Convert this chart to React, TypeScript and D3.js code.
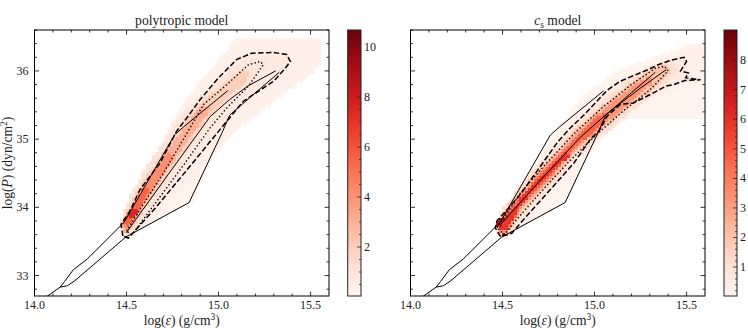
import React from 'react';
import * as d3 from 'd3';

type Pt = [number, number];

// ---------- axes / ticks ----------
const X_DOMAIN: [number, number] = [14.0, 15.6];
const Y_DOMAIN: [number, number] = [32.7, 36.6];
const X_TICKS = [14.0, 14.5, 15.0, 15.5];
const X_TICK_LABELS = ['14.0', '14.5', '15.0', '15.5'];
const Y_TICKS = [33, 34, 35, 36];
const Y_TICK_LABELS = ['33', '34', '35', '36'];
const CB_TICKS_LEFT = [2, 4, 6, 8, 10];
const CB_TICKS_RIGHT = [1, 2, 3, 4, 5, 6, 7, 8];
const CB_RANGE_LEFT: [number, number] = [0.04, 10.68];
const CB_RANGE_RIGHT: [number, number] = [0.02, 9.02];

// ---------- prior envelope (both panels) ----------
const ENVELOPE_UPPER: Pt[] = [[14.066, 32.69], [14.139, 32.83], [14.164, 32.915], [14.211, 33.086], [14.287, 33.243], [14.487, 33.78], [14.76, 35.06], [14.81, 35.18], [15.05, 35.71]];
const ENVELOPE_LOWER: Pt[] = [[14.139, 32.83], [14.178, 32.85], [14.215, 32.915], [14.496, 33.565], [14.84, 34.07], [15.02, 35.1], [15.06, 35.35], [15.2, 35.68], [15.33, 35.98]];

// ---------- polytropic model ----------
const MEDIAN_L: Pt[] = [[14.5, 33.63], [14.555, 33.84], [14.75, 34.57], [14.954, 35.33], [15.06, 35.58], [15.16, 35.78], [15.31, 36.0]];
const DASHED_L: Pt[] = [[14.48, 33.58], [14.47, 33.75], [14.52, 33.95], [14.573, 34.26], [14.682, 34.65], [14.773, 35.12], [14.827, 35.31], [14.9, 35.58], [15.0, 35.9], [15.1, 36.17], [15.18, 36.26], [15.3, 36.27], [15.37, 36.24], [15.39, 36.14], [15.36, 36.03], [15.3, 35.85], [15.135, 35.556], [15.045, 35.263], [14.85, 34.62], [14.66, 34.0], [14.51, 33.55], [14.48, 33.58]];
const DOTTED_L: Pt[] = [[14.5, 33.65], [14.583, 34.01], [14.7, 34.5], [14.845, 35.165], [14.918, 35.507], [15.045, 35.8], [15.162, 36.09], [15.226, 36.14], [15.243, 36.09], [15.162, 35.776], [15.045, 35.458], [14.954, 35.165], [14.81, 34.62], [14.53, 33.6], [14.5, 33.65]];

const HEAT_L_015: Pt[] = [[14.46, 33.62], [14.455, 33.75], [14.5, 33.95], [14.58, 34.3], [14.66, 34.7], [14.72, 35.13], [14.83, 35.62], [14.97, 36.06], [15.1, 36.5], [15.56, 36.5], [15.56, 36.16], [15.51, 35.97], [15.3, 35.55], [15.08, 35.09], [14.94, 34.62], [14.86, 34.09], [14.5, 33.55]];
const HEAT_L_03: Pt[] = [[14.46, 33.62], [14.455, 33.75], [14.5, 33.95], [14.58, 34.3], [14.66, 34.7], [14.72, 35.13], [14.83, 35.62], [14.97, 36.06], [15.1, 36.5], [15.56, 36.5], [15.56, 36.16], [15.51, 35.97], [15.3, 35.55], [15.08, 35.09], [14.9, 34.6], [14.7, 33.95], [14.52, 33.55]];
const HEAT_L_07: Pt[] = [[14.48, 33.58], [14.47, 33.75], [14.52, 33.95], [14.573, 34.26], [14.682, 34.65], [14.773, 35.12], [14.827, 35.31], [14.9, 35.58], [15.0, 35.9], [15.1, 36.17], [15.18, 36.26], [15.3, 36.27], [15.37, 36.24], [15.39, 36.14], [15.36, 36.03], [15.3, 35.85], [15.135, 35.556], [15.045, 35.263], [14.85, 34.62], [14.66, 34.0], [14.51, 33.55]];
const HEAT_L_10: Pt[] = [[14.46, 33.75], [14.52, 34.2], [14.61, 34.6], [14.71, 35.0], [14.8, 35.35], [14.9, 35.62], [15.0, 35.85], [15.1, 36.08], [15.2, 36.2], [15.28, 36.15], [15.24, 36.0], [15.19, 35.85], [15.09, 35.62], [14.99, 35.35], [14.89, 35.0], [14.79, 34.6], [14.69, 34.2], [14.59, 33.78], [14.53, 33.58], [14.48, 33.6]];
const HEAT_L_20: Pt[] = [[14.47, 33.76], [14.545, 34.2], [14.645, 34.6], [14.745, 35.0], [14.845, 35.35], [14.945, 35.62], [15.045, 35.85], [15.13, 36.02], [15.17, 35.98], [15.155, 35.85], [15.055, 35.62], [14.955, 35.35], [14.855, 35.0], [14.755, 34.6], [14.655, 34.2], [14.555, 33.78], [14.5, 33.6]];
const HEAT_L_30: Pt[] = [[14.47, 33.76], [14.565, 34.2], [14.665, 34.6], [14.765, 35.0], [14.865, 35.35], [14.92, 35.5], [14.97, 35.48], [14.935, 35.35], [14.835, 35.0], [14.735, 34.6], [14.635, 34.2], [14.535, 33.78], [14.49, 33.62]];
const HEAT_L_42: Pt[] = [[14.48, 33.76], [14.57, 34.2], [14.67, 34.6], [14.72, 34.8], [14.76, 34.78], [14.73, 34.6], [14.63, 34.2], [14.53, 33.78], [14.5, 33.66]];
const HEAT_L_55: Pt[] = [[14.48, 33.76], [14.57, 34.2], [14.59, 34.3], [14.63, 34.28], [14.62, 34.2], [14.53, 33.8], [14.5, 33.7]];
const HEAT_L_75: Pt[] = [[14.515, 33.86], [14.525, 33.97], [14.56, 33.97], [14.55, 33.86]];

// ---------- c_s model ----------
const MEDIAN_R: Pt[] = [[14.49, 33.75], [14.7, 34.38], [14.92, 35.02], [15.07, 35.38], [15.25, 35.75], [15.39, 36.02]];
const DASHED_R: Pt[] = [[14.49, 33.57], [14.46, 33.7], [14.47, 33.8], [14.53, 33.98], [14.6, 34.2], [14.7, 34.58], [14.8, 34.96], [14.87, 35.17], [14.945, 35.36], [15.0, 35.52], [15.07, 35.72], [15.14, 35.85], [15.22, 35.94], [15.3, 36.03], [15.345, 36.09], [15.42, 36.16], [15.486, 36.2], [15.5, 36.14], [15.467, 36.0], [15.51, 35.97], [15.495, 35.9], [15.576, 35.87], [15.49, 35.86], [15.43, 35.8], [15.39, 35.78], [15.3, 35.65], [15.21, 35.53], [15.14, 35.51], [15.069, 35.34], [15.024, 35.12], [14.978, 35.0], [14.888, 34.65], [14.76, 34.26], [14.63, 33.87], [14.55, 33.62], [14.49, 33.57]];
const DOTTED_R: Pt[] = [[14.47, 33.7], [14.6, 34.22], [14.75, 34.68], [14.9, 35.11], [15.05, 35.48], [15.2, 35.8], [15.33, 36.04], [15.38, 36.07], [15.4, 36.0], [15.3, 35.72], [15.15, 35.4], [15.0, 35.04], [14.85, 34.64], [14.7, 34.2], [14.57, 33.8], [14.51, 33.6], [14.47, 33.7]];

const HEAT_R_015: Pt[] = [[14.46, 33.6], [14.455, 33.8], [14.52, 34.0], [14.62, 34.4], [14.72, 34.8], [14.78, 35.09], [14.93, 35.62], [15.11, 35.99], [15.38, 36.26], [15.51, 36.39], [15.6, 36.4], [15.6, 35.31], [15.18, 35.31], [15.05, 35.05], [14.93, 34.61], [14.85, 34.09], [14.5, 33.55]];
const HEAT_R_035: Pt[] = [[14.47, 33.6], [14.46, 33.75], [14.53, 34.0], [14.65, 34.45], [14.76, 34.9], [14.88, 35.3], [15.02, 35.62], [15.2, 35.95], [15.4, 36.2], [15.52, 36.3], [15.6, 36.3], [15.6, 35.8], [15.45, 35.75], [15.3, 35.6], [15.15, 35.45], [15.05, 35.2], [14.95, 34.85], [14.8, 34.35], [14.65, 33.85], [14.52, 33.55]];
const HEAT_R_06: Pt[] = [[14.49, 33.57], [14.46, 33.7], [14.47, 33.8], [14.53, 33.98], [14.6, 34.2], [14.7, 34.58], [14.8, 34.96], [14.87, 35.17], [14.945, 35.36], [15.0, 35.52], [15.07, 35.72], [15.14, 35.85], [15.22, 35.94], [15.3, 36.03], [15.345, 36.09], [15.42, 36.16], [15.486, 36.2], [15.5, 36.1], [15.495, 35.9], [15.43, 35.8], [15.3, 35.65], [15.21, 35.53], [15.14, 35.51], [15.069, 35.34], [14.978, 35.0], [14.888, 34.65], [14.76, 34.26], [14.63, 33.87], [14.55, 33.62]];
const HEAT_R_10: Pt[] = [[14.46, 33.75], [14.5, 34.0], [14.6, 34.33], [14.7, 34.64], [14.8, 34.93], [14.9, 35.22], [15.0, 35.47], [15.1, 35.7], [15.2, 35.9], [15.3, 36.08], [15.42, 36.18], [15.46, 36.0], [15.3, 35.6], [15.2, 35.4], [15.1, 35.18], [15.0, 34.95], [14.9, 34.7], [14.8, 34.41], [14.7, 34.12], [14.6, 33.82], [14.52, 33.55], [14.47, 33.58]];
const HEAT_R_22: Pt[] = [[14.47, 33.76], [14.5, 33.93], [14.6, 34.25], [14.7, 34.56], [14.8, 34.85], [14.9, 35.14], [15.0, 35.39], [15.1, 35.62], [15.2, 35.82], [15.3, 36.0], [15.38, 36.1], [15.41, 36.0], [15.3, 35.69], [15.2, 35.49], [15.1, 35.27], [15.0, 35.04], [14.9, 34.79], [14.8, 34.5], [14.7, 34.21], [14.6, 33.91], [14.52, 33.6], [14.48, 33.62]];
const HEAT_R_35: Pt[] = [[14.47, 33.76], [14.5, 33.88], [14.6, 34.2], [14.7, 34.5], [14.8, 34.79], [14.9, 35.08], [15.0, 35.33], [15.1, 35.56], [15.2, 35.76], [15.3, 35.94], [15.32, 35.84], [15.2, 35.54], [15.1, 35.32], [15.0, 35.09], [14.9, 34.84], [14.8, 34.55], [14.7, 34.26], [14.6, 33.96], [14.52, 33.62], [14.48, 33.65]];
const HEAT_R_46: Pt[] = [[14.48, 33.76], [14.5, 33.85], [14.6, 34.16], [14.7, 34.46], [14.8, 34.75], [14.9, 35.04], [15.0, 35.29], [15.05, 35.38], [15.06, 35.25], [15.0, 35.13], [14.9, 34.88], [14.8, 34.59], [14.7, 34.3], [14.6, 34.0], [14.52, 33.65], [14.49, 33.65]];
const HEAT_R_58: Pt[] = [[14.48, 33.76], [14.6, 34.13], [14.7, 34.43], [14.8, 34.72], [14.85, 34.85], [14.86, 34.72], [14.8, 34.62], [14.7, 34.33], [14.6, 34.03], [14.52, 33.68], [14.49, 33.62]];
const HEAT_R_72A: Pt[] = [[14.468, 33.73], [14.475, 33.82], [14.505, 33.83], [14.5, 33.73]];
const HEAT_R_72B: Pt[] = [[14.49, 33.57], [14.492, 33.62], [14.51, 33.62], [14.508, 33.57]];

const LEVELS_LEFT: { value: number; poly: Pt[] }[] = [
  { value: 0.15, poly: HEAT_L_015 }, { value: 0.3, poly: HEAT_L_03 }, { value: 0.7, poly: HEAT_L_07 },
  { value: 1.0, poly: HEAT_L_10 }, { value: 2.0, poly: HEAT_L_20 }, { value: 3.0, poly: HEAT_L_30 },
  { value: 4.2, poly: HEAT_L_42 }, { value: 5.5, poly: HEAT_L_55 }, { value: 7.5, poly: HEAT_L_75 },
];
const LEVELS_RIGHT: { value: number; poly: Pt[] }[] = [
  { value: 0.12, poly: HEAT_R_015 }, { value: 0.3, poly: HEAT_R_035 }, { value: 0.6, poly: HEAT_R_06 },
  { value: 1.0, poly: HEAT_R_10 }, { value: 2.1, poly: HEAT_R_22 }, { value: 3.3, poly: HEAT_R_35 },
  { value: 4.6, poly: HEAT_R_46 }, { value: 5.8, poly: HEAT_R_58 }, { value: 7.2, poly: HEAT_R_72A }, { value: 7.2, poly: HEAT_R_72B },
];

// ---------- layout ----------
const Y0 = 30, Y1 = 296;
const FONT = "'Liberation Serif', 'DejaVu Serif', serif";
const LABEL_SIZE = 13.6;
const TICK_SIZE = 12;
const CELL_DX = 0.016, CELL_DY = 0.044;

function rasterize(levels: { value: number; poly: Pt[] }[]) {
  const nx = Math.round((X_DOMAIN[1] - X_DOMAIN[0]) / CELL_DX);
  const ny = Math.ceil((Y_DOMAIN[1] - Y_DOMAIN[0]) / CELL_DY);
  const cells: { x: number; y: number; v: number }[] = [];
  for (let i = 0; i < nx; i++) {
    for (let j = 0; j < ny; j++) {
      const cx = X_DOMAIN[0] + (i + 0.5) * CELL_DX;
      const cy = Y_DOMAIN[0] + (j + 0.5) * CELL_DY;
      let v = 0;
      for (const l of levels) {
        if (l.value > v && d3.polygonContains(l.poly, [cx, cy])) v = l.value;
      }
      if (v > 0) cells.push({ x: X_DOMAIN[0] + i * CELL_DX, y: Y_DOMAIN[0] + j * CELL_DY, v });
    }
  }
  return cells;
}

function Panel(props: {
  id: string; x0: number; x1: number; title: React.ReactNode; levels: { value: number; poly: Pt[] }[];
  range: [number, number]; median: Pt[]; dashed: Pt[]; dotted: Pt[]; yLabels: boolean;
}) {
  const { id, x0, x1, title, levels, range, median, dashed, dotted, yLabels } = props;
  const xs = d3.scaleLinear().domain(X_DOMAIN).range([x0, x1]);
  const ys = d3.scaleLinear().domain(Y_DOMAIN).range([Y1, Y0]);
  const color = d3.scaleSequential(d3.interpolateReds).domain(range);
  const cells = React.useMemo(() => rasterize(levels), [levels]);
  const line = d3.line<Pt>().x(d => xs(d[0])).y(d => ys(d[1]));
  const xMinor = d3.range(14.1, 15.6, 0.1).filter(v => Math.abs(v * 2 - Math.round(v * 2)) > 1e-6);
  const yMinor = d3.range(32.8, 36.6, 0.2).filter(v => Math.abs(v - Math.round(v)) > 1e-6);
  const cx = (x0 + x1) / 2;
  return (
    <g>
      <defs>
        <clipPath id={`clip-${id}`}><rect x={x0} y={Y0} width={x1 - x0} height={Y1 - Y0} /></clipPath>
      </defs>
      <g clipPath={`url(#clip-${id})`} shapeRendering="crispEdges">
        {cells.map((c, k) => {
          const px = xs(c.x), py = ys(c.y + CELL_DY);
          return <rect key={k} x={px} y={py} width={xs(c.x + CELL_DX) - px + 0.4} height={ys(c.y) - py + 0.4} fill={color(c.v)} />;
        })}
      </g>
      <g clipPath={`url(#clip-${id})`} fill="none" stroke="#000">
        <path d={line(ENVELOPE_UPPER) || ''} strokeWidth={1} />
        <path d={line(ENVELOPE_LOWER) || ''} strokeWidth={1} />
        <path d={line(median) || ''} strokeWidth={1} />
        <path d={line(dashed) || ''} strokeWidth={1.5} strokeDasharray="5.5,2.4" />
        <path d={line(dotted) || ''} strokeWidth={1.4} strokeDasharray="1.4,2.3" />
      </g>
      <rect x={x0} y={Y0} width={x1 - x0} height={Y1 - Y0} fill="none" stroke="#000" strokeWidth={1} />
      <g stroke="#000" strokeWidth={0.8}>
        {X_TICKS.map(t => <g key={'xt' + t}>
          <line x1={xs(t)} x2={xs(t)} y1={Y1} y2={Y1 - 4.5} />
          <line x1={xs(t)} x2={xs(t)} y1={Y0} y2={Y0 + 4.5} />
        </g>)}
        {xMinor.map(t => <g key={'xm' + t}>
          <line x1={xs(t)} x2={xs(t)} y1={Y1} y2={Y1 - 2.5} />
          <line x1={xs(t)} x2={xs(t)} y1={Y0} y2={Y0 + 2.5} />
        </g>)}
        {Y_TICKS.map(t => <g key={'yt' + t}>
          <line x1={x0} x2={x0 + 4.5} y1={ys(t)} y2={ys(t)} />
          <line x1={x1} x2={x1 - 4.5} y1={ys(t)} y2={ys(t)} />
        </g>)}
        {yMinor.map(t => <g key={'ym' + t}>
          <line x1={x0} x2={x0 + 2.5} y1={ys(t)} y2={ys(t)} />
          <line x1={x1} x2={x1 - 2.5} y1={ys(t)} y2={ys(t)} />
        </g>)}
      </g>
      <g fontFamily={FONT} fill="#222">
        {X_TICKS.map((t, i) => <text key={'xl' + t} x={xs(t)} y={309} fontSize={TICK_SIZE} textAnchor="middle">{X_TICK_LABELS[i]}</text>)}
        {yLabels && Y_TICKS.map((t, i) => <text key={'yl' + t} x={x0 - 6} y={ys(t) + 4} fontSize={TICK_SIZE} textAnchor="end">{Y_TICK_LABELS[i]}</text>)}
        <text x={cx} y={325} fontSize={LABEL_SIZE} textAnchor="middle">log(<tspan fontStyle="italic">ε</tspan>) (g/cm<tspan dy={-5} fontSize={9.5}>3</tspan><tspan dy={5}>)</tspan></text>
        <text x={cx} y={25} fontSize={LABEL_SIZE} textAnchor="middle">{title}</text>
        {yLabels && <text transform={`translate(12,${(Y0 + Y1) / 2}) rotate(-90)`} fontSize={LABEL_SIZE} textAnchor="middle">log(<tspan fontStyle="italic">P</tspan>) (dyn/cm<tspan dy={-5} fontSize={9.5}>2</tspan><tspan dy={5}>)</tspan></text>}
      </g>
    </g>
  );
}

function Colorbar(props: { id: string; x0: number; x1: number; range: [number, number]; ticks: number[]; minorStep: number }) {
  const { id, x0, x1, range, ticks, minorStep } = props;
  const ys = d3.scaleLinear().domain(range).range([Y1, Y0]);
  const stops = d3.range(0, 1.0001, 0.05);
  const minor = d3.range(Math.ceil(range[0] / minorStep) * minorStep, range[1], minorStep)
    .filter(v => Math.abs(v - Math.round(v)) > 1e-6 || !ticks.includes(Math.round(v)));
  return (
    <g>
      <defs>
        <linearGradient id={`grad-${id}`} x1="0" y1="1" x2="0" y2="0">
          {stops.map(t => <stop key={t} offset={t} stopColor={d3.interpolateReds(t)} />)}
        </linearGradient>
      </defs>
      <rect x={x0} y={Y0} width={x1 - x0} height={Y1 - Y0} fill={`url(#grad-${id})`} stroke="#222" strokeWidth={1} />
      <g stroke="#222" strokeWidth={0.8}>
        {ticks.map(t => <line key={'M' + t} x1={x1} x2={x1 - 4} y1={ys(t)} y2={ys(t)} />)}
        {minor.map(t => <line key={'m' + t} x1={x1} x2={x1 - 2} y1={ys(t)} y2={ys(t)} />)}
      </g>
      <g fontFamily={FONT} fontSize={TICK_SIZE} fill="#222">
        {ticks.map(t => <text key={'l' + t} x={x1 + 3} y={ys(t) + 4}>{t}</text>)}
      </g>
    </g>
  );
}

export default function App() {
  return (
    <svg width={748} height={330} viewBox="0 0 748 330" style={{ position: 'absolute', left: 0, top: 0, background: '#fff' }}>
      <rect x={0} y={0} width={748} height={330} fill="#fff" />
      <Panel id="L" x0={34.5} x1={329} title="polytropic model" levels={LEVELS_LEFT} range={CB_RANGE_LEFT}
        median={MEDIAN_L} dashed={DASHED_L} dotted={DOTTED_L} yLabels={true} />
      <Colorbar id="L" x0={347.7} x1={361} range={CB_RANGE_LEFT} ticks={CB_TICKS_LEFT} minorStep={0.5} />
      <Panel id="R" x0={410.5} x1={705} title={<><tspan fontStyle="italic">c</tspan><tspan dy={3} fontSize={9.5}>s</tspan><tspan dy={-3}> model</tspan></>}
        levels={LEVELS_RIGHT} range={CB_RANGE_RIGHT} median={MEDIAN_R} dashed={DASHED_R} dotted={DOTTED_R} yLabels={false} />
      <Colorbar id="R" x0={724} x1={737} range={CB_RANGE_RIGHT} ticks={CB_TICKS_RIGHT} minorStep={0.2} />
    </svg>
  );
}
